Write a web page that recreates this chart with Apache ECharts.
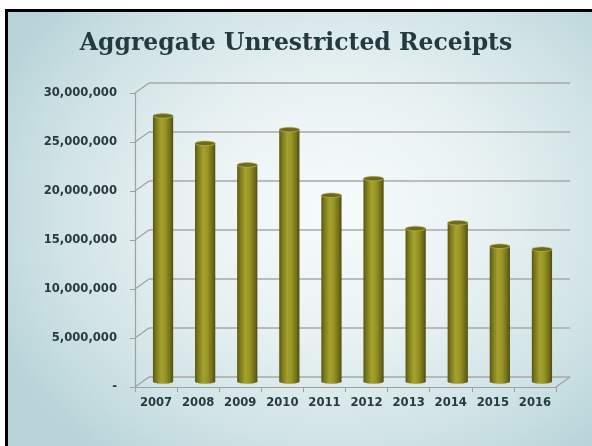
<!DOCTYPE html>
<html>
<head>
<meta charset="utf-8">
<script src="https://cdn.jsdelivr.net/npm/echarts@6/dist/echarts.min.js"></script>
<style>
  html, body { margin: 0; padding: 0; background: #ffffff; }
  #page { position: relative; width: 592px; height: 446px; background: #ffffff; overflow: hidden; }
  #panel {
    position: absolute; left: 5px; top: 9px; width: 587px; height: 437px;
    box-sizing: border-box;
    border-left: 3px solid #000; border-top: 3px solid #000;
    background: radial-gradient(ellipse 64% 72% at 56% 46%, #f7fbfb 0%, #e9f2f3 40%, #cde1e4 78%, #b8d4d9 100%);
  }
  #chart { position: absolute; left: 0; top: 0; width: 592px; height: 446px; }
</style>
</head>
<body>
<div id="page">
  <div id="panel"></div>
  <div id="chart"></div>
</div>
<script>
// Fiscal years and aggregate unrestricted receipts
const years = ['2007', '2008', '2009', '2010', '2011', '2012', '2013', '2014', '2015', '2016'];
const receipts = [27100000, 24300000, 22100000, 25700000, 19000000, 20700000, 15600000, 16200000, 13800000, 13500000];
const yTicks = [0, 5000000, 10000000, 15000000, 20000000, 25000000, 30000000];

const yMax = 30000000;
const yStep = 5000000;

// Pseudo-3D box: front plane, bar plane and back wall share one size, shifted by depth.
const plot = { left: 135, top: 93, width: 421, height: 294 };
const depth = { dx: 14, dy: -10 };
const mid = { dx: 7, dy: -5.5 };

function gridAt(off) {
  return { left: plot.left + off.dx, top: plot.top + off.dy, width: plot.width, height: plot.height, containLabel: false };
}

const labelColor = '#2a3a3f';
const lineGray = '#a0a0a0';

function fmt(v) {
  if (v === 0) return '-';
  return v.toString().replace(/\B(?=(\d{3})+(?!\d))/g, ',');
}

const chart = echarts.init(document.getElementById('chart'), null, { renderer: 'canvas' });

const xBase = { type: 'category', data: years, boundaryGap: true };
const yBase = { type: 'value', min: 0, max: yMax, interval: yStep };
const hidden = { axisLine: { show: false }, axisTick: { show: false }, axisLabel: { show: false }, splitLine: { show: false } };

// connector rows: [category index, value, side] where side -1 = left wall, 1 = right end of floor
const connectors = yTicks.map(v => [0, v, -1]).concat([[years.length - 1, 0, 1]]);

const option = {
  backgroundColor: 'transparent',
  animation: false,
  title: {
    text: 'Aggregate Unrestricted Receipts',
    left: 'center',
    top: 27,
    textStyle: { fontFamily: 'DejaVu Serif', fontWeight: 'bold', fontSize: 23.5, color: '#233a3f' }
  },
  grid: [gridAt({ dx: 0, dy: 0 }), gridAt(depth), gridAt(mid)],
  xAxis: [
    Object.assign({}, xBase, {
      gridIndex: 0,
      axisLine: { show: true, lineStyle: { color: lineGray, width: 1.2 } },
      axisTick: { show: true, length: 5, lineStyle: { color: lineGray } },
      axisLabel: { interval: 0, margin: 10, fontFamily: 'DejaVu Sans', fontWeight: 'bold', fontSize: 11.6, color: labelColor },
      splitLine: { show: false }
    }),
    Object.assign({}, xBase, { gridIndex: 1 }, hidden),
    Object.assign({}, xBase, { gridIndex: 2 }, hidden)
  ],
  yAxis: [
    Object.assign({}, yBase, {
      gridIndex: 0,
      axisLine: { show: true, lineStyle: { color: lineGray, width: 1.2 } },
      axisTick: { show: true, length: 5, lineStyle: { color: lineGray } },
      axisLabel: { margin: 18, formatter: fmt, fontFamily: 'DejaVu Sans', fontWeight: 'bold', fontSize: 11.6, color: labelColor },
      splitLine: { show: false }
    }),
    Object.assign({}, yBase, {
      gridIndex: 1,
      axisLine: { show: false }, axisTick: { show: false }, axisLabel: { show: false },
      splitLine: { show: true, lineStyle: { color: '#a9a9a9', width: 1.6 } }
    }),
    Object.assign({}, yBase, { gridIndex: 2 }, hidden)
  ],
  series: [
    {
      // side-wall connectors from the front axis to the back wall, plus the floor's right edge
      type: 'custom',
      xAxisIndex: 0,
      yAxisIndex: 0,
      silent: true,
      z: 1,
      dimensions: ['cat', 'val', 'side'],
      encode: { x: 0, y: 1 },
      data: connectors,
      renderItem: function (params, api) {
        const row = connectors[params.dataIndex];
        const p = api.coord([row[0], row[1]]);
        const half = api.size([1, 0])[0] / 2;
        const x = p[0] + row[2] * half;
        return {
          type: 'line',
          shape: { x1: x, y1: p[1], x2: x + depth.dx, y2: p[1] + depth.dy },
          style: { stroke: lineGray, lineWidth: 1.2 }
        };
      }
    },
    {
      // cylinders standing on the mid-depth plane
      type: 'custom',
      xAxisIndex: 2,
      yAxisIndex: 2,
      z: 3,
      data: receipts.map((v, i) => [i, v]),
      renderItem: function (params, api) {
        const i = api.value(0);
        const base = api.coord([i, 0]);
        const top = api.coord([i, api.value(1)]);
        const w = api.size([1, 0])[0] * 0.48;
        const x0 = base[0] - w / 2;
        const ry = 2.3;
        const body = new echarts.graphic.LinearGradient(0, 0, 1, 0, [
          { offset: 0, color: '#56540f' },
          { offset: 0.12, color: '#76731a' },
          { offset: 0.4, color: '#a5a12c' },
          { offset: 0.6, color: '#9a9626' },
          { offset: 0.86, color: '#706d18' },
          { offset: 1, color: '#4f4d0d' }
        ]);
        return {
          type: 'group',
          children: [
            { type: 'ellipse', shape: { cx: base[0], cy: base[1], rx: w / 2, ry: ry }, style: { fill: body } },
            { type: 'rect', shape: { x: x0, y: top[1], width: w, height: base[1] - top[1] }, style: { fill: body } },
            { type: 'ellipse', shape: { cx: top[0], cy: top[1], rx: w / 2, ry: ry },
              style: { fill: '#6e6b17', stroke: 'rgba(190,188,110,0.8)', lineWidth: 0.8 } }
          ]
        };
      }
    }
  ]
};

chart.setOption(option);
</script>
</body>
</html>
